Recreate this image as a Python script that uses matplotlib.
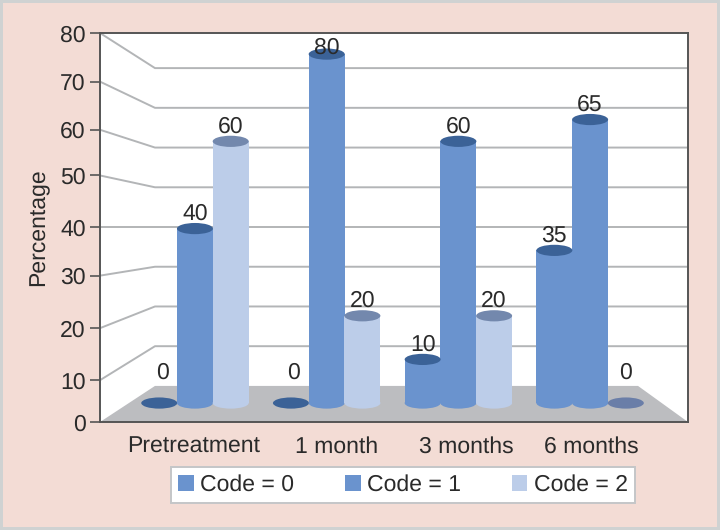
import matplotlib
matplotlib.use('Agg')
import matplotlib.pyplot as plt
from matplotlib.patches import Ellipse, Polygon, Rectangle

plt.rcParams['font.family'] = ['Liberation Sans', 'DejaVu Sans']
plt.rcParams['text.hinting'] = 'no_hinting'
plt.rcParams['text.hinting_factor'] = 1

categories = ['Pretreatment', '1 month', '3 months', '6 months']
series_names = ['Code = 0', 'Code = 1', 'Code = 2']
code0 = [0, 0, 10, 35]
code1 = [40, 80, 60, 65]
code2 = [60, 20, 20, 0]
y_values = [0, 10, 20, 30, 40, 50, 60, 70, 80]

# where the printed ticks really sit, the source axis is a bit uneven
tick_pos = [0, 8.6, 19.3, 30.1, 40.1, 50.7, 60.1, 70, 80]
cat_label_pos = [0.64, 1.61, 2.49, 3.34]

body_colors = ['#6a93ce', '#6a93ce', '#bccde9']
top_colors = ['#3b6297', '#3b6297', '#7388ad']
zero_colors = ['#3b6297', '#3b6297', '#6a7ea8']
grey_line = '#b3b5b7'
text_color = '#2a2a2a'

# depth of the fake 3d box, in data units of the front plane
BACK_LEFT = 0.374
BACK_RIGHT = 3.66
BACK_FLOOR = 7.42
BACK_SCALE = 0.817
BAR_FLOOR = 3.9
BAR_SCALE = 0.897
BAR_W = 0.245
BAR_STEP = 0.243
ELL_H = 2.3
FONT = 16.6

fig = plt.figure(figsize=(7.2, 5.3), dpi=100, facecolor='#f3dcd5', edgecolor='#cfd2d2', linewidth=4)
ax = fig.add_axes([100 / 720, (530 - 422) / 530, 588 / 720, 389 / 530])
ax.set_xlim(0, 4)
ax.set_ylim(0, 80)

# floor
ax.add_patch(Polygon([(0, 0), (BACK_LEFT, BACK_FLOOR), (BACK_RIGHT, BACK_FLOOR), (4, 0)],
                     facecolor='#bcbdc0', edgecolor='none', zorder=1))

# back wall and left wall lines
for v, t in zip(y_values[1:], tick_pos[1:]):
    back = BACK_FLOOR + v * BACK_SCALE
    ax.plot([0, BACK_LEFT, 4], [t, back, back], color=grey_line, lw=1.4, zorder=1.5)

for s, values in enumerate([code0, code1, code2]):
    for i, v in enumerate(values):
        x = 0.198 + (i + 0.5) * 0.896 + (s - 1) * BAR_STEP
        base = BAR_FLOOR
        top = base + v * BAR_SCALE
        label = series_names[s] if i == 0 else None
        ax.add_patch(Rectangle((x - BAR_W / 2, base), BAR_W, top - base, facecolor=body_colors[s],
                               edgecolor='none', label=label, zorder=2 + s * 0.1))
        if v > 0:
            ax.add_patch(Ellipse((x, base), BAR_W, ELL_H, facecolor=body_colors[s],
                                 edgecolor='none', zorder=2 + s * 0.1))
            ax.add_patch(Ellipse((x, top), BAR_W, ELL_H, facecolor=top_colors[s],
                                 edgecolor='none', zorder=2.5 + s * 0.1))
        else:
            ax.add_patch(Ellipse((x, base), BAR_W, ELL_H, facecolor=zero_colors[s],
                                 edgecolor='none', zorder=2 + s * 0.1))
        off = 15
        dx = 0
        if v == 0:
            off = 30
            if s == 0:
                dx = 3
        elif v == 80:
            off = 6
        ax.annotate(str(v), (x, top), xytext=(dx * 0.72, off * 0.72), textcoords='offset points',
                    ha='center', va='center', fontsize=FONT, color=text_color, zorder=5)

ax.set_yticks(tick_pos)
ax.set_yticklabels([str(v) for v in y_values])
ax.set_xticks(cat_label_pos)
ax.set_xticklabels(categories)
ax.tick_params(axis='y', length=7.2, width=1.2, color='#555555', pad=3, labelsize=FONT, labelcolor=text_color)
ax.tick_params(axis='x', length=0, pad=10, labelsize=FONT, labelcolor=text_color)
for side in ax.spines:
    ax.spines[side].set_color('#555555')
    ax.spines[side].set_linewidth(1.4)
ax.set_ylabel('Percentage', fontsize=FONT, color=text_color)
ax.yaxis.set_label_coords(-0.087, 0.5)

leg = ax.legend(loc='center', bbox_to_anchor=(403 / 720, (530 - 485) / 530), bbox_transform=fig.transFigure,
                ncol=3, fontsize=FONT, fancybox=False, framealpha=1, facecolor='white', edgecolor='#c4c6c8',
                handlelength=0.68, handleheight=0.68, handletextpad=0.27, columnspacing=2.2,
                borderpad=0.3, borderaxespad=0)
leg.get_frame().set_linewidth(1.4)
for t in leg.get_texts():
    t.set_color(text_color)

fig.savefig('out.png', dpi=100)
